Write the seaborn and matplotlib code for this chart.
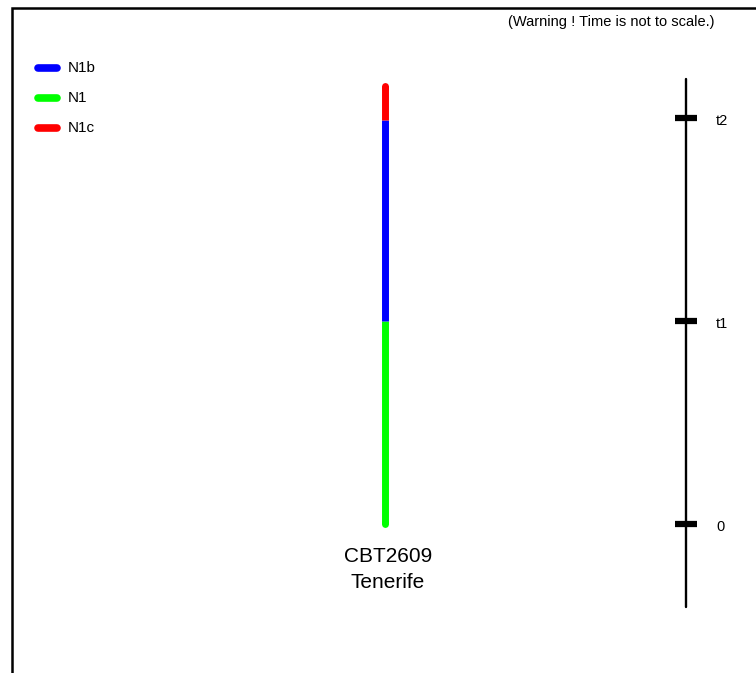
import matplotlib
matplotlib.use("Agg")
import matplotlib.pyplot as plt
import seaborn as sns
import pandas as pd
from matplotlib.patches import Rectangle

sns.set_theme(style="white")
plt.rcParams['font.family'] = ['Liberation Sans', 'DejaVu Sans']

# Data
haplogroups = ["N1b", "N1", "N1c"]
colors = ["#0000ff", "#00ff00", "#ff0000"]
seg_group = ["N1", "N1b", "N1c"]
seg_start = [0.0, 1.0, 1.99]
seg_end = [1.0, 1.99, 2.16]
sample_name = "CBT2609"
sample_place = "Tenerife"
time_ticks = [0, 1, 2]
time_labels = ["0", "t1", "t2"]
time_axis_range = [-0.41, 2.19]

palette = dict(zip(haplogroups, colors))

fig = plt.figure(figsize=(7.56, 6.73), dpi=100)
fig.patch.set_facecolor("white")
ax = fig.add_axes([0, 0, 1, 1])
px_per_unit = 203.0
ax.set_xlim(0, 756)
ax.set_ylim((524 - 673) / px_per_unit, 524 / px_per_unit)
ax.axis("off")

# strain line segments
rows = []
for g, s, e in zip(seg_group, seg_start, seg_end):
    rows.append({"x": 385, "y": s, "grp": g})
    rows.append({"x": 385, "y": e, "grp": g})
df = pd.DataFrame(rows)
sns.lineplot(data=df, x="x", y="y", hue="grp", palette=palette, estimator=None,
             sort=False, orient="y", lw=5, legend=False, ax=ax,
             solid_capstyle="butt")
# rounded ends
ax.plot([385, 385], [seg_start[0], seg_start[0] + 0.01], color=palette[seg_group[0]],
        lw=5, solid_capstyle="round")
ax.plot([385, 385], [seg_end[-1] - 0.01, seg_end[-1]], color=palette[seg_group[-1]],
        lw=5, solid_capstyle="round")

ax.text(388, (524 - 556) / px_per_unit, sample_name, ha="center", va="center",
        fontsize=15, color="black")
ax.text(388, (524 - 582) / px_per_unit, sample_place, ha="center", va="center",
        fontsize=15, color="black")

# time axis
ax.plot([686, 686], time_axis_range, color="black", lw=1.7)
for t, lab in zip(time_ticks, time_labels):
    ax.plot([675, 697], [t, t], color="black", lw=4.5, solid_capstyle="butt")
    ax.text(716, t - 0.015, lab, ha="left", va="center", fontsize=10.5, color="black")

# legend
for i, (g, c) in enumerate(zip(haplogroups, colors)):
    yy = (524 - (68 + 30 * i)) / px_per_unit
    ax.plot([38, 57], [yy, yy], color=c, lw=5.5, solid_capstyle="round")
    ax.text(68, yy, g, ha="left", va="center", fontsize=11, color="black")

ax.text(611, (524 - 22) / px_per_unit, "(Warning ! Time is not to scale.)",
        ha="center", va="center", fontsize=10.5, color="black")

# frame (extends past right and bottom edges)
fig.patches.append(Rectangle((12 / 756, -0.1), 1.2, 1 - 8 / 673 + 0.1,
                             transform=fig.transFigure, fill=False,
                             edgecolor="black", lw=1.8))

fig.savefig("out.png", dpi=100)
